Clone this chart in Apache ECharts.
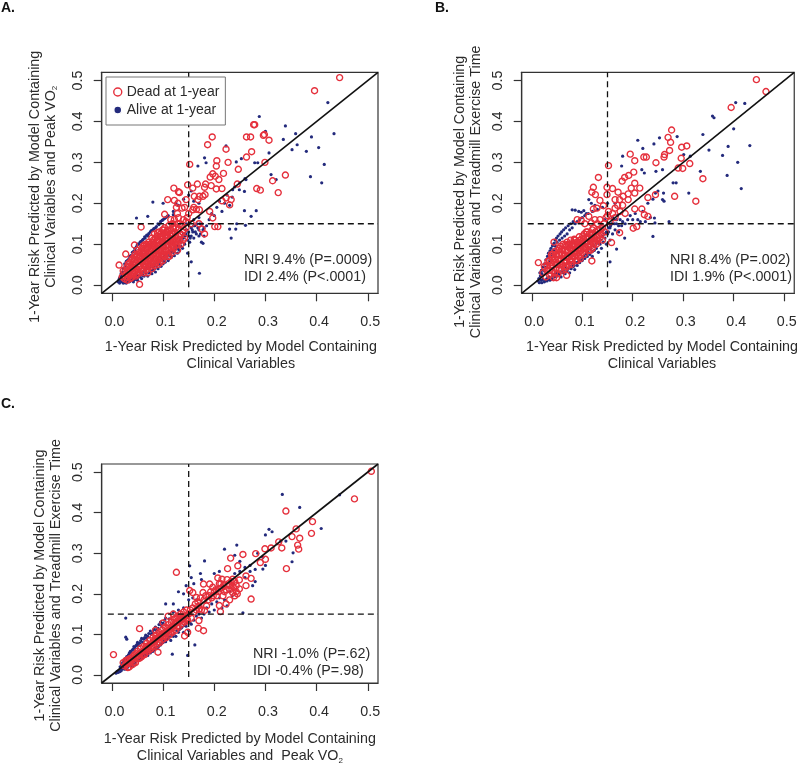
<!DOCTYPE html>
<html><head><meta charset="utf-8">
<style>html,body{margin:0;padding:0;background:#fff}#c{width:800px;height:766px}</style>
<script src="https://cdn.jsdelivr.net/npm/echarts@6/dist/echarts.min.js"></script>
</head><body><div id="c"></div>
<script>
const tickValues=[0,0.1,0.2,0.3,0.4,0.5];
const diagonal=[[-0.02,-0.02],[0.52,0.52]];
const cutH=[[-0.008,0.15],[0.52,0.15]];
const cutV=[[0.15,-0.005],[0.15,0.52]];
const deadLabel='Dead at 1-year', aliveLabel='Alive at 1-year';

const deadA=[[.445,.507],[.396,.475],[.277,.392],[.279,.392],[.263,.362],[.271,.362],[.196,.362],[.187,.343],[.296,.366],[.298,.368],[.307,.354],[.223,.332],[.273,.326],[.263,.313],[.227,.300],[.205,.304],[.204,.291],[.299,.300],[.152,.295],[.247,.283],[.339,.269],[.218,.273],[.197,.272],[.192,.264],[.202,.266],[.209,.258],[.314,.255],[.148,.245],[.167,.247],[.183,.247],[.181,.239],[.194,.243],[.245,.247],[.283,.236],[.290,.232],[.325,.226],[.121,.237],[.130,.228],[.132,.226],[.158,.237],[.204,.235],[.215,.236],[.161,.217],[.171,.217],[.178,.217],[.168,.209],[.182,.221],[.122,.207],[.129,.200],[.109,.209],[.137,.188],[.223,.213],[.233,.209],[.230,.196],[.215,.206],[.145,.209],[.158,.184],[.171,.184],[.191,.180],[.197,.164],[.201,.143],[.207,.143],[.103,.173],[.176,.137],[.181,.125],[.057,.142],[.139,.110],[.027,.076],[.014,.049],[.054,.002],[.044,.098],
[.02,.02],[.022,.035],[.025,.015],[.028,.028],[.03,.045],[.03,.02],[.033,.035],[.035,.055],[.036,.025],[.038,.018],[.04,.04],[.04,.065],[.042,.03],[.045,.05],[.045,.075],[.047,.022],[.05,.038],[.05,.06],[.05,.085],[.052,.028],[.055,.048],[.055,.07],[.058,.09],[.06,.035],[.06,.056],[.062,.078],[.063,.098],[.065,.045],[.066,.065],[.068,.088],[.07,.03],[.07,.055],[.07,.075],[.072,.105],[.075,.045],[.075,.065],[.076,.09],[.078,.115],[.08,.055],[.08,.075],[.082,.1],[.083,.125],[.085,.065],[.086,.085],[.088,.11],[.09,.05],[.09,.075],[.09,.095],[.092,.13],[.094,.118],[.095,.065],[.096,.085],[.098,.105],[.1,.125],[.1,.075],[.1,.095],[.103,.14],[.105,.085],[.105,.11],[.108,.12],[.11,.07],[.11,.098],[.112,.135],[.115,.085],[.115,.11],[.118,.15],[.12,.095],[.12,.125],[.122,.16],[.125,.105],[.125,.14],[.128,.085],[.13,.12],[.13,.165],[.133,.15],[.135,.1],[.138,.13],[.14,.16],[.142,.19],[.145,.14],[.15,.175],[.155,.15],[.16,.19],[.165,.185],[.17,.15],[.128,.175],[.115,.16],[.147,.165],[.126,.19],
[.032,.052],[.037,.044],[.043,.058],[.048,.07],[.053,.08],[.057,.062],[.061,.085],[.064,.07],[.067,.1],[.071,.092],[.073,.06],[.077,.082],[.079,.098],[.081,.11],[.084,.092],[.087,.102],[.089,.12],[.091,.085],[.093,.108],[.097,.12],[.099,.135],[.102,.1],[.107,.13],[.109,.108],[.113,.125],[.117,.1],[.119,.14],[.123,.115],
[.025,.032],[.027,.02],[.03,.012],[.03,.036],[.033,.025],[.034,.045],[.036,.016],[.037,.037],[.038,.06],[.04,.05],[.041,.022],[.043,.042],[.044,.068],[.046,.034],[.047,.055],[.049,.026],[.05,.075],[.052,.044],[.053,.065],[.054,.032],[.056,.057],[.057,.08],[.058,.04],[.06,.065],[.061,.095],[.062,.048],[.063,.03],[.064,.075],[.065,.09],[.067,.052],[.068,.038],[.069,.07],[.07,.095],[.071,.046],[.072,.062],[.074,.08],[.074,.1],[.076,.052],[.077,.07],[.078,.04],[.079,.088],[.08,.105],[.081,.06],[.082,.078],[.083,.047],[.084,.098],[.085,.115],[.086,.055],[.087,.072],[.088,.09],[.089,.128],[.09,.062],[.091,.11],[.092,.08],[.093,.098],[.094,.055],[.095,.125],[.096,.07],[.097,.09],[.098,.115],[.099,.06],[.1,.105],[.101,.135],[.102,.082],[.103,.07],[.104,.12],[.105,.095],[.106,.13],[.107,.075],[.108,.1],[.109,.115],[.11,.085],[.111,.145],[.112,.07],[.113,.105],[.114,.12],[.115,.135],[.116,.092],[.117,.125],[.118,.08],[.119,.11],[.12,.14],[.121,.09],[.122,.105],[.123,.13],[.125,.12],[.126,.098],[.127,.11],[.128,.15],[.129,.1],[.13,.135],[.132,.11],[.134,.125],[.136,.145],[.14,.135],[.142,.115],[.145,.155]];
const aliveA=[[.422,.446],[.288,.412],[.339,.389],[.300,.376],[.359,.370],[.335,.356],[.390,.362],[.434,.370],[.362,.343],[.352,.331],[.404,.336],[.380,.327],[.415,.295],[.388,.265],[.410,.250],[.307,.323],[.223,.340],[.181,.311],[.184,.299],[.168,.291],[.243,.301],[.253,.309],[.279,.299],[.285,.299],[.311,.270],[.321,.258],[.262,.258],[.259,.229],[.249,.233],[.236,.233],[.259,.182],[.282,.182],[.272,.168],[.244,.150],[.261,.146],[.242,.137],[.233,.115],[.230,.137],[.080,.203],[.048,.164],[.070,.168],[.100,.200],[.171,.029],[.155,.057],[.148,.078],[.178,.102],
[.012,.008],[.014,.014],[.015,.005],[.017,.012],[.018,.02],[.02,.008],[.02,.015],[.022,.005],[.023,.012],[.025,.006],[.026,.01],[.028,.005],[.03,.008],[.032,.012],[.034,.008],[.036,.01],[.04,.012],[.042,.008],[.045,.014],[.05,.012],[.05,.018],[.055,.02],[.058,.016],[.06,.024],[.063,.022],[.066,.03],[.07,.022],[.072,.03],[.075,.035],[.078,.028],[.08,.036],[.083,.04],[.085,.032],[.088,.045],[.09,.04],[.093,.05],[.096,.046],[.1,.052],[.1,.06],[.104,.056],[.108,.065],[.11,.06],[.113,.072],[.116,.068],[.12,.08],[.122,.072],[.125,.09],[.128,.078],[.13,.095],[.132,.085],[.135,.105],[.138,.09],[.14,.115],[.142,.1],[.145,.125],[.148,.11],[.15,.13],[.152,.105],[.155,.12],[.155,.14],[.158,.13],[.16,.115],[.162,.145],[.165,.125],[.168,.14],[.17,.12],[.172,.15],[.175,.105],[.178,.135],[.18,.12],[.185,.145],[.19,.16],[.195,.175],[.2,.17],[.205,.19],[.21,.205],[.215,.18],[.22,.2],[.225,.22],[.23,.195],[.235,.215],[.24,.24],[.25,.25],[.26,.26],[.17,.165],[.16,.16],
[.03,.06],[.035,.07],[.04,.08],[.045,.09],[.05,.1],[.055,.105],[.06,.11],[.065,.115],[.07,.12],[.075,.13],[.08,.135],[.085,.14],[.09,.15],[.095,.155],[.1,.16],[.105,.165],[.11,.17],[.12,.18],[.125,.2],[.13,.195],[.14,.21],[.15,.22],[.155,.23],[.16,.205],[.17,.2],[.018,.028],[.022,.04],[.026,.048],[.15,.15],[.145,.15],
[.015,.018],[.016,.009],[.019,.026],[.021,.032],[.024,.042],[.025,.052],[.028,.058],[.03,.014],[.033,.064],[.035,.015],[.037,.072],[.038,.012],[.04,.018],[.042,.082],[.043,.016],[.045,.086],[.046,.02],[.048,.094],[.05,.025],[.052,.1],[.053,.022],[.056,.03],[.057,.107],[.059,.028],[.061,.112],[.062,.034],[.064,.118],[.065,.036],[.068,.04],[.068,.122],[.07,.044],[.072,.126],[.074,.04],[.076,.046],[.077,.133],[.079,.05],[.081,.045],[.082,.138],[.084,.05],[.086,.055],[.087,.143],[.089,.056],[.091,.062],[.092,.148],[.094,.058],[.097,.066],[.098,.158],[.102,.07],[.103,.163],[.106,.072],[.108,.168],[.11,.078],[.113,.082],[.116,.08],[.118,.085],[.12,.172],[.123,.092],[.127,.098],[.13,.088],[.133,.11],[.135,.095],[.137,.118],[.14,.125],[.143,.12],[.146,.135],[.15,.12],[.153,.115],[.157,.135],[.16,.145],[.163,.13],[.166,.15],[.17,.135],[.173,.125],[.176,.15],[.18,.14]];

const deadB=[[.445,.502],[.464,.473],[.395,.434],[.277,.379],[.270,.361],[.275,.349],[.297,.337],[.307,.340],[.273,.329],[.263,.319],[.262,.313],[.195,.320],[.204,.304],[.222,.313],[.227,.313],[.246,.299],[.296,.310],[.313,.297],[.290,.286],[.299,.285],[.152,.292],[.202,.276],[.339,.260],[.132,.263],[.184,.263],[.192,.268],[.179,.254],[.204,.249],[.197,.237],[.214,.237],[.149,.239],[.122,.239],[.160,.236],[.283,.217],[.245,.221],[.230,.214],[.325,.205],[.119,.227],[.126,.221],[.149,.221],[.135,.207],[.171,.227],[.181,.217],[.191,.223],[.204,.225],[.165,.209],[.174,.209],[.191,.209],[.204,.186],[.218,.186],[.223,.172],[.230,.168],[.122,.186],[.129,.188],[.152,.180],[.165,.188],[.142,.194],[.201,.139],[.208,.143],[.174,.128],[.158,.104],[.119,.059],[.090,.160],[.098,.158],[.113,.168],[.044,.105],[.013,.055],[.069,.024],[.049,.018],
[.022,.03],[.025,.045],[.028,.02],[.03,.035],[.032,.058],[.035,.025],[.037,.048],[.04,.068],[.04,.035],[.043,.018],[.045,.055],[.046,.082],[.048,.04],[.05,.07],[.052,.028],[.054,.09],[.056,.052],[.058,.036],[.06,.075],[.062,.1],[.064,.06],[.065,.04],[.067,.085],[.07,.105],[.071,.068],[.073,.05],[.075,.09],[.077,.11],[.078,.075],[.08,.058],[.082,.095],[.084,.112],[.085,.07],[.087,.085],[.089,.105],[.09,.06],[.092,.09],[.094,.118],[.096,.075],[.098,.1],[.1,.08],[.102,.115],[.104,.125],[.106,.09],[.108,.105],[.11,.13],[.112,.095],[.114,.115],[.116,.085],[.118,.125],[.12,.105],[.122,.14],[.124,.115],[.126,.13],[.128,.1],[.13,.15],[.133,.12],[.136,.135],[.14,.11],[.143,.15],[.147,.165],[.15,.17],[.155,.155],[.16,.175],[.165,.165],[.17,.195],[.175,.18],[.18,.195],[.185,.175],[.135,.16],[.125,.16],[.118,.152],[.105,.15],
[.033,.04],[.038,.055],[.042,.075],[.047,.062],[.051,.05],[.055,.075],[.059,.088],[.063,.07],[.066,.098],[.069,.058],[.072,.082],[.076,.1],[.079,.065],[.081,.085],[.083,.1],[.088,.075],[.091,.105],[.095,.09],[.097,.11],[.101,.1],[.103,.09],[.107,.115],[.111,.105],[.115,.1],[.119,.115],[.123,.1],
[.03,.048],[.035,.06],[.036,.036],[.039,.075],[.041,.046],[.044,.065],[.045,.03],[.048,.075],[.049,.052],[.052,.062],[.053,.085],[.055,.04],[.057,.095],[.058,.062],[.06,.05],[.061,.085],[.063,.045],[.065,.075],[.066,.055],[.068,.068],[.069,.095],[.07,.045],[.072,.1],[.074,.07],[.075,.06],[.077,.09],[.078,.05],[.08,.1],[.081,.07],[.083,.08],[.085,.095],[.086,.11],[.087,.06],[.09,.08],[.091,.095],[.093,.07],[.095,.11],[.096,.065],[.098,.085],[.1,.095],[.101,.12],[.104,.075],[.105,.105],[.108,.09],[.11,.115],[.112,.085],[.114,.125],[.117,.11],[.12,.09],[.121,.125],[.125,.105],[.128,.12],[.13,.11],[.132,.135],[.135,.115],[.138,.125],[.14,.14],[.145,.13],[.12,.135],[.108,.13]];
const aliveB=[[.404,.446],[.422,.444],[.358,.413],[.361,.409],[.400,.382],[.339,.368],[.253,.360],[.288,.363],[.210,.354],[.242,.345],[.220,.334],[.432,.341],[.389,.339],[.351,.330],[.378,.317],[.180,.315],[.408,.300],[.301,.319],[.314,.315],[.334,.278],[.387,.268],[.415,.236],[.311,.225],[.261,.225],[.259,.209],[.262,.205],[.223,.274],[.218,.282],[.246,.278],[.280,.250],[.286,.250],[.259,.282],[.178,.291],[.272,.155],[.240,.119],[.243,.164],[.244,.152],[.184,.115],[.168,.088],[.155,.057],[.080,.184],[.093,.180],[.103,.182],[.113,.209],[.086,.183],[.098,.178],[.108,.175],[.118,.2],[.125,.195],
[.012,.01],[.014,.016],[.015,.006],[.017,.022],[.018,.012],[.02,.006],[.02,.028],[.022,.014],[.024,.036],[.025,.008],[.027,.044],[.028,.012],[.03,.01],[.03,.052],[.033,.014],[.035,.06],[.036,.012],[.04,.014],[.04,.075],[.043,.085],[.045,.02],[.047,.095],[.05,.022],[.05,.105],[.054,.026],[.055,.11],[.058,.02],[.06,.115],[.062,.03],[.065,.12],[.066,.028],[.07,.125],[.07,.035],[.075,.03],[.075,.135],[.078,.04],[.08,.14],[.082,.045],[.085,.038],[.086,.15],[.09,.048],[.09,.155],[.095,.055],[.095,.16],[.1,.06],[.1,.165],[.105,.065],[.105,.17],[.11,.07],[.112,.175],[.115,.075],[.12,.07],[.12,.18],[.124,.085],[.128,.09],[.13,.185],[.132,.08],[.135,.1],[.138,.09],[.14,.19],[.142,.105],[.145,.115],[.148,.1],[.15,.125],[.15,.2],[.152,.13],[.155,.14],[.155,.11],[.158,.15],[.16,.125],[.162,.16],[.165,.135],[.168,.15],[.17,.17],[.172,.13],[.175,.16],[.178,.145],[.18,.155],[.185,.15],[.19,.16],[.195,.17],[.2,.16],[.205,.175],[.21,.16],[.215,.155],[.22,.18],[.225,.155],[.23,.2],[.235,.165],[.24,.21],[.245,.225],[.25,.23],[.165,.2],[.145,.16],[.15,.15],[.16,.165],
[.016,.03],[.019,.036],[.022,.044],[.025,.052],[.028,.062],[.031,.07],[.033,.078],[.036,.084],[.038,.09],[.041,.096],[.044,.102],[.046,.11],[.049,.115],[.052,.12],[.056,.125],[.059,.13],[.063,.135],[.067,.14],[.072,.145],[.077,.15],[.082,.155],[.03,.016],[.034,.02],[.038,.018],[.042,.022],[.047,.028],[.051,.03],[.056,.032],[.06,.036],[.064,.034],[.068,.042],[.072,.04],[.076,.045],[.08,.05],[.084,.048],[.088,.055],[.092,.056],[.096,.062],[.1,.068],[.104,.07],[.108,.076],[.112,.08],[.116,.088],[.12,.082],[.124,.095],[.128,.102],[.132,.105],[.136,.11],[.14,.12],[.144,.125],[.148,.13],[.152,.14],[.156,.145],[.16,.15],[.164,.15],[.168,.16],[.172,.145]];

const deadC=[[.507,.502],[.474,.434],[.340,.404],[.392,.378],[.390,.349],[.360,.360],[.367,.337],[.352,.341],[.363,.320],[.365,.310],[.341,.262],[.326,.328],[.332,.313],[.311,.313],[.299,.311],[.281,.299],[.256,.297],[.232,.288],[.300,.285],[.290,.277],[.226,.262],[.246,.269],[.126,.253],[.262,.244],[.272,.238],[.262,.220],[.272,.187],[.207,.239],[.215,.236],[.191,.224],[.179,.224],[.236,.236],[.249,.234],[.152,.208],[.158,.203],[.165,.191],[.178,.203],[.197,.216],[.210,.212],[.217,.195],[.230,.185],[.223,.175],[.236,.203],[.243,.220],[.230,.220],[.249,.212],[.210,.171],[.212,.156],[.181,.159],[.171,.163],[.170,.134],[.169,.115],[.179,.109],[.148,.105],[.142,.096],[.054,.114],[.003,.050],[.090,.056],[.031,.018],
[.022,.03],[.025,.022],[.027,.035],[.03,.028],[.032,.038],[.034,.02],[.036,.032],[.038,.042],[.04,.025],[.042,.038],[.044,.05],[.046,.03],[.048,.045],[.05,.058],[.052,.04],[.054,.052],[.056,.065],[.058,.045],[.06,.058],[.062,.07],[.064,.05],[.066,.062],[.068,.078],[.07,.058],[.072,.07],[.074,.085],[.076,.064],[.078,.078],[.08,.092],[.082,.07],[.084,.083],[.086,.098],[.088,.075],[.09,.09],[.092,.105],[.094,.08],[.096,.095],[.098,.11],[.1,.088],[.102,.102],[.104,.118],[.106,.092],[.108,.108],[.11,.124],[.112,.098],[.114,.112],[.116,.13],[.118,.105],[.12,.12],[.122,.138],[.124,.11],[.126,.128],[.128,.145],[.13,.118],[.132,.133],[.134,.15],[.136,.125],[.138,.14],[.14,.155],[.142,.13],[.144,.145],[.146,.16],[.148,.135],[.15,.15],[.155,.14],[.16,.155],[.165,.16],[.17,.17],[.175,.16],[.18,.185],[.185,.17],[.19,.195],[.195,.19],[.2,.205],[.205,.195],[.21,.225],[.215,.215],[.22,.205],[.225,.235],[.23,.21],[.235,.22],[.24,.23],[.245,.2],[.24,.195],[.12,.15],[.11,.145],[.1,.128],[.085,.11],
[.035,.04],[.043,.03],[.047,.052],[.055,.042],[.061,.05],[.067,.07],[.073,.062],[.079,.07],[.085,.09],[.091,.082],[.097,.1],[.103,.095],[.109,.115],[.115,.105],[.121,.13],[.127,.12],[.133,.14],[.139,.132],[.145,.138],[.125,.14],[.135,.145],
[.028,.026],[.037,.036],[.041,.045],[.051,.048],[.057,.055],[.063,.06],[.069,.066],[.075,.075],[.081,.08],[.087,.088],[.093,.095],[.099,.095],[.105,.105],[.111,.11],[.117,.118],[.123,.125],[.129,.13],[.135,.135],[.141,.142],[.147,.148],[.153,.16],[.158,.165],[.163,.175],[.168,.18],[.173,.19],[.183,.195],[.188,.185],[.193,.205],[.198,.195],[.203,.21],[.208,.205],[.213,.225],[.218,.22],[.223,.21],[.228,.225],[.233,.23],[.238,.215],[.243,.205]];
const aliveC=[[.333,.445],[.367,.413],[.445,.444],[.409,.361],[.307,.359],[.313,.353],[.300,.345],[.220,.310],[.244,.320],[.354,.301],[.352,.279],[.295,.261],[.181,.281],[.173,.250],[.152,.269],[.256,.153],[.027,.140],[.027,.093],[.029,.088],[.118,.051],[.148,.048],[.162,.074],[.26,.265],[.27,.27],[.28,.26],[.25,.28],[.24,.295],[.285,.3],[.295,.29],[.3,.27],[.33,.33],[.34,.33],[.155,.24],[.16,.225],[.145,.22],[.13,.205],[.14,.2],[.12,.175],[.105,.175],[.2,.25],[.21,.255],[.175,.235],
[.008,.004],[.01,.008],[.012,.006],[.014,.012],[.015,.008],[.017,.016],[.018,.01],[.02,.014],[.02,.022],[.022,.018],[.024,.028],[.025,.014],[.027,.036],[.028,.016],[.03,.044],[.03,.018],[.033,.05],[.035,.024],[.036,.058],[.04,.062],[.04,.022],[.043,.07],[.045,.03],[.047,.072],[.05,.036],[.05,.08],[.054,.078],[.055,.04],[.058,.09],[.06,.042],[.062,.088],[.065,.05],[.066,.098],[.07,.048],[.07,.095],[.075,.054],[.075,.108],[.08,.058],[.08,.105],[.085,.066],[.085,.118],[.09,.068],[.09,.115],[.095,.074],[.095,.13],[.1,.08],[.1,.128],[.105,.082],[.105,.14],[.11,.09],[.112,.138],[.115,.085],[.12,.095],[.12,.155],[.125,.095],[.13,.105],[.13,.16],[.135,.115],[.14,.105],[.14,.165],[.145,.12],[.15,.11],[.15,.185],[.152,.13],[.155,.125],[.158,.19],[.16,.135],[.165,.145],[.165,.185],[.17,.15],[.175,.14],[.18,.15],[.185,.165],[.19,.155],[.195,.175],[.2,.16],[.205,.18],[.21,.19],[.215,.165],[.22,.185],[.225,.17],[.23,.205],[.235,.195],[.24,.25],[.25,.255],[.26,.24],[.27,.255],[.275,.22],[.28,.23],
[.016,.02],[.019,.024],[.021,.03],[.023,.034],[.026,.04],[.029,.045],[.032,.048],[.034,.054],[.038,.056],[.042,.064],[.045,.066],[.049,.075],[.052,.072],[.056,.084],[.06,.08],[.064,.092],[.068,.09],[.072,.102],[.077,.1],[.082,.112],[.087,.11],[.092,.124],[.097,.122],[.103,.135],[.033,.022],[.037,.026],[.042,.028],[.047,.034],[.052,.038],[.057,.042],[.062,.046],[.067,.052],[.072,.055],[.077,.058],[.082,.062],[.087,.068],[.092,.072],[.097,.078],[.102,.084],[.107,.088],[.112,.094],[.117,.098],[.122,.102],[.127,.11],[.132,.112],[.137,.118],[.142,.122],[.147,.128]];

const panels=[
 {dead:deadA,alive:aliveA,top:72.3,left:101.7,h:221,xname:'1-Year Risk Predicted by Model Containing\nClinical Variables',xshift:1,xgap:45.5,
  yname:'1-Year Risk Predicted by Model Containing\n{t|Clinical Variables and Peak VO}{s|2}',yshift:4,ygap:43,legend:true},
 {dead:deadB,alive:aliveB,top:72.3,left:521.7,h:221,xname:'1-Year Risk Predicted by Model Containing\nClinical Variables',xshift:4,xgap:45.5,
  yname:'1-Year Risk Predicted by Model Containing\n{t|Clinical Variables and Treadmill Exercise Time}',yshift:9,ygap:38},
 {dead:deadC,alive:aliveC,top:464,left:101.7,h:220.7,xname:'1-Year Risk Predicted by Model Containing\n{t|Clinical Variables and  Peak VO}{s|2}',xshift:0,xgap:48,
  yname:'1-Year Risk Predicted by Model Containing\n{t|Clinical Variables and Treadmill Exercise Time}',yshift:12,ygap:38}];
const notes=[
 {text:'NRI 9.4% (P=.0009)\nIDI 2.4% (P<.0001)',left:244,top:252},
 {text:'NRI 8.4% (P=.002)\nIDI 1.9% (P<.0001)',left:670,top:252},
 {text:'NRI -1.0% (P=.62)\nIDI -0.4% (P=.98)',left:253,top:646}];
const letters=[{text:'A.',left:1,top:1},{text:'B.',left:435,top:1},{text:'C.',left:1,top:397}];

const FONT='"Liberation Sans",Arial,sans-serif', INK='#2b2b2b', RED='#e5303c', BLUE='#232a7c', FS=14.3;
const makeRich=lh=>({t:{fontFamily:FONT,fontSize:FS,color:INK,lineHeight:lh,verticalAlign:'middle'},
            s:{fontFamily:FONT,fontSize:8,color:INK,lineHeight:lh,verticalAlign:'bottom',padding:[6,0,0,0]}});
const grids=[],xs=[],ys=[],series=[];
panels.forEach((p,i)=>{
 grids.push({left:p.left,top:p.top,width:276.3,height:p.h,show:true,borderColor:'#333',borderWidth:1.2,backgroundColor:'transparent'});
 const base={gridIndex:i,type:'value',min:-0.02,max:0.52,splitLine:{show:false},axisLine:{show:true,onZero:false,lineStyle:{color:'#333',width:1.2}},
   axisTick:{show:true,length:8,customValues:tickValues,lineStyle:{color:'#333',width:1.2}}};
 xs.push({...base,name:p.xname,nameLocation:'middle',nameGap:p.xgap,
   nameTextStyle:{fontFamily:FONT,fontSize:FS,color:INK,lineHeight:17,rich:makeRich(17),padding:[0,0,0,p.xshift*2]},
   axisLabel:{customValues:tickValues,fontFamily:FONT,fontSize:FS,color:INK,margin:22,padding:[0,0,0,5],formatter:v=>v.toFixed(1)}});
 ys.push({...base,name:p.yname,nameLocation:'middle',nameGap:p.ygap,nameRotate:90,
   nameTextStyle:{fontFamily:FONT,fontSize:FS,color:INK,lineHeight:16,rich:makeRich(16),padding:[0,p.yshift*2,0,0]},
   axisLabel:{customValues:tickValues,fontFamily:FONT,fontSize:FS,color:INK,rotate:90,margin:17,formatter:v=>v.toFixed(1)}});
 series.push({type:'scatter',name:aliveLabel,xAxisIndex:i,yAxisIndex:i,data:p.alive,symbolSize:3.2,itemStyle:{color:BLUE,opacity:1},z:2,silent:true});
 series.push({type:'scatter',name:deadLabel,xAxisIndex:i,yAxisIndex:i,data:p.dead,symbolSize:6,itemStyle:{color:'rgba(0,0,0,0)',borderColor:RED,borderWidth:1.4,opacity:1},z:3,silent:true});
 [[diagonal,'solid',1.6],[cutH,[6,4],1.3],[cutV,[6,4],1.3]].forEach(([d,dash,w])=>{
  series.push({type:'line',xAxisIndex:i,yAxisIndex:i,data:d,symbol:'none',silent:true,z:4,lineStyle:{color:'#111',width:w,type:dash}});
 });
});
const titles=[...notes.map(n=>({text:n.text,left:n.left,top:n.top,padding:0,textStyle:{fontFamily:FONT,fontSize:FS,fontWeight:'normal',color:INK,lineHeight:17}})),
 ...letters.map(n=>({text:n.text,left:n.left,top:n.top,padding:0,textStyle:{fontFamily:FONT,fontSize:14,fontWeight:'bold',color:'#111'}}))];
const chart=echarts.init(document.getElementById('c'),null,{renderer:'canvas'});
chart.setOption({animation:false,backgroundColor:'#fff',title:titles,grid:grids,xAxis:xs,yAxis:ys,series,
 legend:{left:106,top:77,orient:'vertical',selectedMode:false,backgroundColor:'#fff',borderColor:'#777',borderWidth:1,borderRadius:0,padding:[8,6,8,7],itemGap:4,itemWidth:8,itemHeight:8,z:6,
  textStyle:{fontFamily:FONT,fontSize:14,color:INK},
  data:[{name:deadLabel,icon:'circle',itemStyle:{color:'#fff',borderColor:RED,borderWidth:1.4}},
        {name:aliveLabel,icon:'circle',itemStyle:{color:BLUE,borderColor:'#fff',borderWidth:1.5}}]}});
</script></body></html>
